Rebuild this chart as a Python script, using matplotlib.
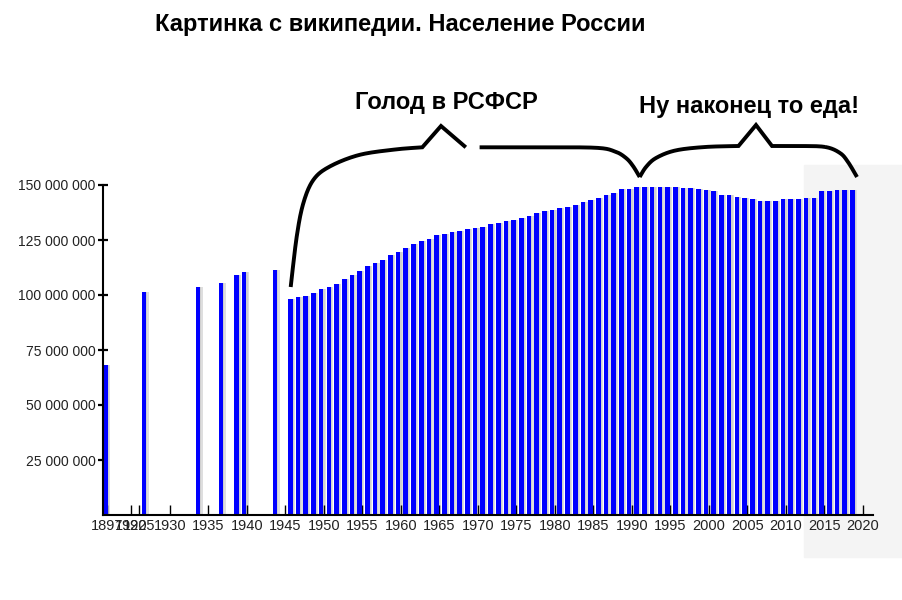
import numpy as np
import matplotlib
matplotlib.use("Agg")
import matplotlib.pyplot as plt
from matplotlib.patches import Rectangle
from matplotlib.ticker import FuncFormatter

plt.rcParams['font.family'] = ['Liberation Sans', 'DejaVu Sans']

# -------------------------------
# Данные (млн человек)
# -------------------------------
early_years = [1897, 1926, 1933, 1936, 1938, 1939, 1943]
early_pop = [68.0, 101.4, 103.6, 105.5, 109.1, 110.5, 111.4]

postwar_years = list(range(1945, 2019))
postwar_pop = [
    98.2, 99.1, 99.5, 100.9, 102.7, 103.6, 105.0, 107.3, 109.1, 110.9,
    113.2, 114.5, 115.9, 118.2, 119.5, 121.4, 123.2, 124.5, 125.5, 127.3,
    127.7, 128.6, 129.1, 130.0, 130.5, 130.9, 132.3, 132.7, 133.6, 134.1,
    135.0, 135.9, 137.3, 138.2, 138.6, 139.5, 140.0, 140.9,
    142.3, 143.2, 144.1, 145.5, 146.4, 148.2, 148.2, 149.1, 149.1, 149.1,
    149.1, 149.1, 149.1, 148.6, 148.6, 148.2, 147.7, 147.3, 145.5, 145.5,
    144.5, 144.1, 143.6, 142.7, 142.7, 142.7, 143.6, 143.6, 143.6, 144.1,
    144.1, 147.3, 147.3, 147.7, 147.7, 147.7,
]

tick_years = [1921.9, 1925, 1926] + list(range(1930, 2021, 5))
tick_labels = ["1897", "1920", "1925"] + [str(y) for y in range(1930, 2021, 5)]

title = "Картинка с википедии. Население России"
note_left = "Голод в РСФСР"
note_right = "Ну наконец то еда!"

X0, X1 = 1921.36, 2021.33

years = np.array(early_years + postwar_years, dtype=float)
pop = np.array(early_pop + postwar_pop) * 1e6


def smooth(pts, n=24):
    # кривая Катмулла-Рома через точки
    p = np.array(pts, float)
    p = np.vstack([p[0], p, p[-1]])
    out = []
    t = np.linspace(0, 1, n)[:, None]
    for i in range(1, len(p) - 2):
        p0, p1, p2, p3 = p[i - 1], p[i], p[i + 1], p[i + 2]
        seg = 0.5 * ((2 * p1) + (-p0 + p2) * t
                     + (2 * p0 - 5 * p1 + 4 * p2 - p3) * t ** 2
                     + (-p0 + 3 * p1 - 3 * p2 + p3) * t ** 3)
        out.append(seg)
    return np.vstack(out)


fig = plt.figure(figsize=(9.02, 6.0), dpi=100)
fig.patches.append(Rectangle((804 / 902, (600 - 557) / 600), 98 / 902, 392 / 600,
                             transform=fig.transFigure, color="#f4f4f4", zorder=-5))

ax = fig.add_axes([103.3 / 902, 85 / 600, (873 - 103.3) / 902, 330 / 600])
ax.set_facecolor("none")

left = np.maximum(years + 0.35, X0)
ax.bar(left + 0.3, pop, width=0.6, align="edge", color="#dedede", zorder=1)
ax.bar(left + 0.15, pop, width=0.6, align="edge", color="#cfcfcf", zorder=1)
ax.bar(left, pop, width=0.6, align="edge", color="#0000ff", zorder=2)

ax.set_xlim(X0, X1)
ax.set_ylim(0, 150e6)
ax.set_yticks(np.arange(25e6, 151e6, 25e6))
ax.yaxis.set_major_formatter(FuncFormatter(lambda v, _: f"{int(v):,}".replace(",", " ")))
ax.set_xticks(tick_years)
ax.set_xticklabels(tick_labels)

for s in ["top", "right"]:
    ax.spines[s].set_visible(False)
for s in ["left", "bottom"]:
    ax.spines[s].set_linewidth(1.5)
    ax.spines[s].set_zorder(3)

ax.tick_params(axis="y", direction="inout", length=7, width=1.6, pad=2,
               labelsize=10, labelcolor="#222222")
ax.tick_params(axis="x", direction="in", length=7.5, width=1.0, pad=3,
               labelsize=10.5, labelcolor="#222222")

# -------------------------------
# Подписи и скобки
# -------------------------------
ov = fig.add_axes([0, 0, 1, 1], zorder=5)
ov.set_xlim(0, 902)
ov.set_ylim(600, 0)
ov.axis("off")
ov.patch.set_alpha(0)

ov.text(400, 24, title, ha="center", va="center", fontsize=17, fontweight="bold")
ov.text(446, 103, note_left, ha="center", va="center", fontsize=17, fontweight="bold")
ov.text(749, 106, note_right, ha="center", va="center", fontsize=17, fontweight="bold")

seg1 = smooth([(290.7, 287), (296.7, 236.7), (303.3, 203.3), (313.3, 180),
               (329.4, 166.7), (359, 155), (395, 149.5), (422.3, 147.3)])
seg1 = np.vstack([seg1, [(441, 126), (465.8, 147.3)]])
seg2 = smooth([(479.6, 147.3), (540, 147.3), (596.2, 147.8), (615, 151.5),
               (626, 158), (633, 166), (639.7, 177)])
seg3a = smooth([(639.7, 177), (646, 167), (656, 158), (675.3, 150.5),
                (705, 147), (738.5, 146)])
seg3b = smooth([(772, 146), (800, 146), (825.4, 147), (840, 153),
                (848, 162), (857, 177)])
seg3 = np.vstack([seg3a, [(756, 125)], seg3b])

for seg in (seg1, seg2, seg3):
    ov.plot(seg[:, 0], seg[:, 1], color="black", lw=2.8,
            solid_capstyle="butt", solid_joinstyle="miter")

fig.savefig("out.png", dpi=100)
